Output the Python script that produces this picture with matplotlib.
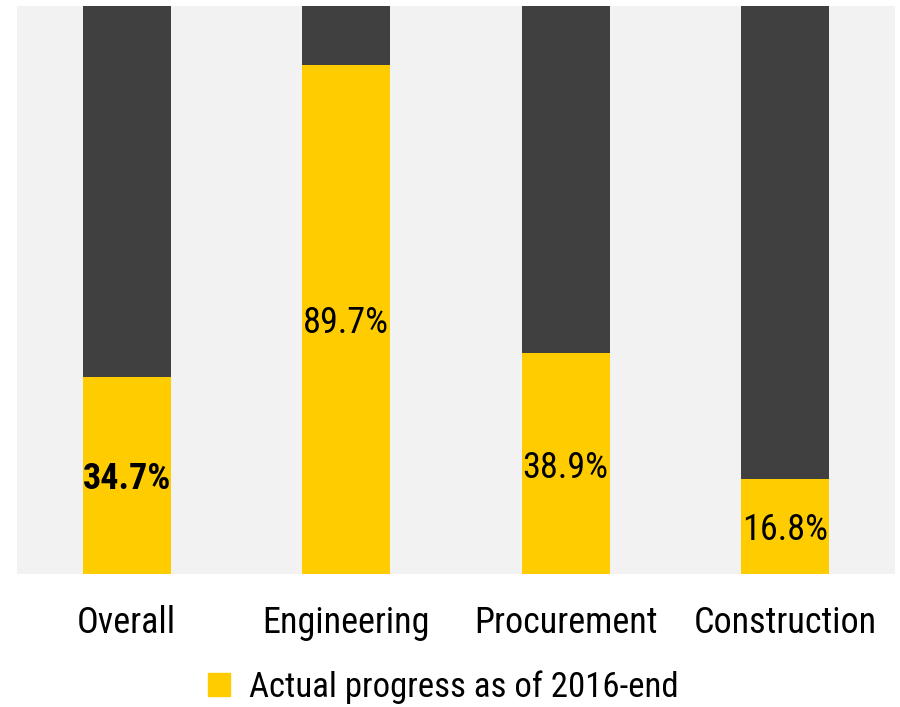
import matplotlib
matplotlib.use("Agg")
import logging
import matplotlib.pyplot as plt
from matplotlib.patches import Patch

logging.getLogger("matplotlib.font_manager").setLevel(logging.ERROR)

categories = ["Overall", "Engineering", "Procurement", "Construction"]
progress = [34.7, 89.7, 38.9, 16.8]
label_bold = [True, False, False, False]
total = 100.0

yellow = "#FFCC00"
dark = "#404040"
panel = "#F2F2F2"
font = ["Roboto Condensed", "Archivo Narrow", "PT Sans Narrow",
        "IBM Plex Sans Condensed", "Liberation Sans"]
size = 26

fig = plt.figure(figsize=(9.0, 7.07), dpi=100)
ax = fig.add_axes([17 / 900, 1 - 574 / 707, 878 / 900, 568 / 707])
ax.set_facecolor(panel)

x = list(range(len(categories)))
remaining = [total - p for p in progress]
ax.bar(x, progress, width=0.4, color=yellow, zorder=2)
ax.bar(x, remaining, bottom=progress, width=0.4, color=dark, zorder=2)

for xi, p, b in zip(x, progress, label_bold):
    ax.text(xi, p / 2, f"{p:.1f}%", ha="center", va="center_baseline", fontsize=size,
            fontweight="bold" if b else "normal", family=font, color="black", zorder=3)

ax.set_xlim(-0.5, len(categories) - 0.5)
ax.set_ylim(0, total)
ax.set_xticks(x)
ax.set_xticklabels(categories, fontsize=size, family=font)
ax.tick_params(axis="x", length=0, pad=22)
ax.set_yticks([])
for s in ax.spines.values():
    s.set_visible(False)

fig.legend(handles=[Patch(color=yellow, label="Actual progress as of 2016-end")],
           loc="center", bbox_to_anchor=(443.5 / 900, 1 - 687 / 707), frameon=False,
           prop={"family": font, "size": 25}, handlelength=0.62, handleheight=0.62,
           handletextpad=0.55, borderpad=0)

fig.savefig("out.png", dpi=100)
